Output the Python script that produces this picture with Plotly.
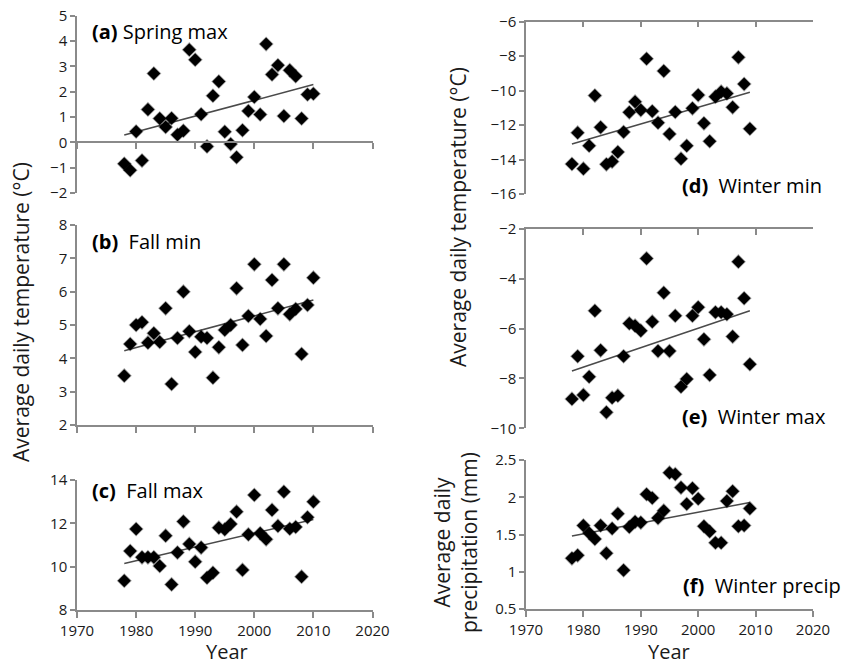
import plotly.graph_objects as go

# ---------------- data ----------------
years_fall = list(range(1978, 2011))     # 33 seasons (a)-(c)
years_winter = list(range(1978, 2010))   # 32 seasons (d)-(f)

spring_max = [-0.85, -1.10, 0.43, -0.72, 1.30, 2.72, 0.94, 0.61, 0.95, 0.30, 0.46,
              3.66, 3.26, 1.11, -0.16, 1.84, 2.40, 0.42, -0.07, -0.59, 0.48, 1.24,
              1.79, 1.10, 3.88, 2.68, 3.04, 1.04, 2.85, 2.61, 0.94, 1.89, 1.92]
fall_min = [3.48, 4.43, 5.00, 5.08, 4.47, 4.75, 4.49, 5.50, 3.23, 4.61, 6.00,
            4.81, 4.19, 4.65, 4.61, 3.42, 4.33, 4.85, 5.00, 6.10, 4.40, 5.27,
            6.82, 5.18, 4.67, 6.35, 5.50, 6.82, 5.32, 5.48, 4.13, 5.60, 6.42]
fall_max = [9.35, 10.72, 11.74, 10.43, 10.43, 10.43, 10.03, 11.43, 9.18, 10.65, 12.08,
            11.05, 10.23, 10.88, 9.49, 9.72, 11.80, 11.72, 11.97, 12.54, 9.85, 11.49,
            13.31, 11.54, 11.26, 12.62, 11.88, 13.46, 11.75, 11.83, 9.54, 12.28, 13.00]
winter_min = [-14.26, -12.44, -14.53, -13.20, -10.29, -12.13, -14.28, -14.12, -13.56, -12.40,
              -11.26, -10.64, -11.13, -8.15, -11.20, -11.86, -8.86, -12.52, -11.24, -13.95,
              -13.20, -11.03, -10.26, -11.90, -12.94, -10.35, -10.06, -10.16, -10.97, -8.07,
              -9.62, -12.21]
winter_max = [-8.82, -7.11, -8.66, -7.93, -5.28, -6.87, -9.36, -8.77, -8.69, -7.11,
              -5.79, -5.88, -6.08, -3.18, -5.72, -6.90, -4.56, -6.90, -5.48, -8.33,
              -8.02, -5.48, -5.14, -6.43, -7.86, -5.34, -5.34, -5.42, -6.32, -3.31,
              -4.78, -7.43]
winter_precip = [1.18, 1.22, 1.62, 1.52, 1.44, 1.62, 1.25, 1.58, 1.78, 1.02,
                 1.60, 1.67, 1.66, 2.04, 1.99, 1.72, 1.82, 2.33, 2.31, 2.13,
                 1.91, 2.12, 1.98, 1.61, 1.54, 1.39, 1.39, 1.95, 2.08, 1.61,
                 1.62, 1.85]

# linear trend lines (end points)
trend_years_fall = [1978, 2010]
trend_years_winter = [1978, 2009]
trend_spring_max = [0.29, 2.28]
trend_fall_min = [4.23, 5.75]
trend_fall_max = [10.15, 12.18]
trend_winter_min = [-13.10, -10.10]
trend_winter_max = [-7.70, -5.28]
trend_winter_precip = [1.48, 1.93]

x_ticks = [1970, 1980, 1990, 2000, 2010, 2020]

panels = [
    # key, x, y, trend x, trend y, label, name, yrange, dtick
    ("a", years_fall, spring_max, trend_years_fall, trend_spring_max, "(a)", " Spring max", [-2, 5], 1),
    ("b", years_fall, fall_min, trend_years_fall, trend_fall_min, "(b)", "  Fall min", [2, 8], 1),
    ("c", years_fall, fall_max, trend_years_fall, trend_fall_max, "(c)", "  Fall max", [8, 14], 2),
    ("d", years_winter, winter_min, trend_years_winter, trend_winter_min, "(d)", "  Winter min", [-16, -6], 2),
    ("e", years_winter, winter_max, trend_years_winter, trend_winter_max, "(e)", "  Winter max", [-10, -2], 2),
    ("f", years_winter, winter_precip, trend_years_winter, trend_winter_precip, "(f)", "  Winter precip", [0.5, 2.5], 0.5),
]

W, H = 852, 665
def fx(px):
    return px / W
def fy(py):
    return 1 - py / H

# plot-area boxes in pixels: (left, right, top, bottom)
boxes = {
    "a": (77, 372.5, 15.7, 193),
    "b": (77, 372.5, 225, 425),
    "c": (77, 372.5, 480, 610),
    "d": (526, 813, 21.7, 194),
    "e": (526, 813, 229, 428.3),
    "f": (526, 813, 460, 609),
}
label_pos = {"a": (90, 32), "b": (90, 241), "c": (90, 491),
             "d": (680, 185), "e": (680, 416), "f": (681, 585)}

FONT = "'Open Sans', Lato, sans-serif"
AXC = "#8a8a8a"
TXT = "#1a1a1a"

fig = go.Figure()
layout = dict(width=W, height=H, margin=dict(l=0, r=0, t=0, b=0, autoexpand=False),
              paper_bgcolor="white", plot_bgcolor="white", showlegend=False,
              font=dict(family=FONT, size=15, color=TXT))
annotations = []

for i, (key, xs, ys, tx, ty, lab, name, yr, dt) in enumerate(panels, start=1):
    xa = "x" if i == 1 else f"x{i}"
    ya = "y" if i == 1 else f"y{i}"
    fig.add_trace(go.Scatter(x=tx, y=ty, mode="lines", xaxis=xa, yaxis=ya,
                             line=dict(color="#4a4a4a", width=1.5), hoverinfo="skip"))
    fig.add_trace(go.Scatter(x=xs, y=ys, mode="markers", xaxis=xa, yaxis=ya,
                             marker=dict(symbol="diamond", size=10, color="black",
                                         line=dict(color="rgba(0,0,0,0.35)", width=1.5))))
    l, r, t, b = boxes[key]
    xd = [fx(l), fx(r)]
    yd = [fy(b), fy(t)]
    xname = "xaxis" if i == 1 else f"xaxis{i}"
    yname = "yaxis" if i == 1 else f"yaxis{i}"
    xax = dict(domain=xd, range=[1970, 2020], tickvals=x_ticks, showgrid=False,
               zeroline=False, showline=True, linecolor=AXC, linewidth=1.5,
               ticks="outside", ticklen=6, tickcolor=AXC, tickwidth=1.5,
               anchor=ya, showticklabels=False, automargin=False,
               tickfont=dict(size=15, color=TXT, family=FONT))
    if key == "a":
        # category axis crosses at y = 0
        xax["anchor"] = "free"
        xax["position"] = yd[0] + (0 - yr[0]) / (yr[1] - yr[0]) * (yd[1] - yd[0])
    if key in ("d", "e"):
        xax["side"] = "top"
        xax["ticks"] = "inside"
    if key in ("c", "f"):
        xax["showticklabels"] = True
    layout[xname] = xax
    layout[yname] = dict(domain=yd, range=yr, dtick=dt, tick0=yr[0], showgrid=False,
                         zeroline=False, showline=True, linecolor=AXC, linewidth=1.5,
                         ticks="outside", ticklen=5, tickcolor=AXC, tickwidth=1.5,
                         anchor=xa, automargin=False,
                         tickfont=dict(size=15, color=TXT, family=FONT))
    lx, ly = label_pos[key]
    annotations.append(dict(x=fx(lx), y=fy(ly), xref="paper", yref="paper",
                            xanchor="left", yanchor="middle", showarrow=False,
                            text=f"<b>{lab}</b>{name}",
                            font=dict(size=20, color="black", family=FONT)))

# axis titles
def title(px, py, text, angle=0, size=21):
    return dict(x=fx(px), y=fy(py), xref="paper", yref="paper", text=text,
                xanchor="center", yanchor="middle", textangle=angle, showarrow=False,
                font=dict(size=size, color=TXT, family=FONT))

annotations += [
    title(21, 312, "Average daily temperature (°C)", -90),
    title(458, 217, "Average daily temperature (°C)", -90),
    title(455, 543, "Average daily<br>precipitation (mm)", -90),
    title(227, 651, "Year", 0, 20),
    title(669, 651, "Year", 0, 20),
]
layout["annotations"] = annotations
fig.update_layout(**layout)
fig.write_html("out.html", config={"displayModeBar": False},
               post_script="document.body.style.margin='0px';document.body.style.overflow='hidden';")
